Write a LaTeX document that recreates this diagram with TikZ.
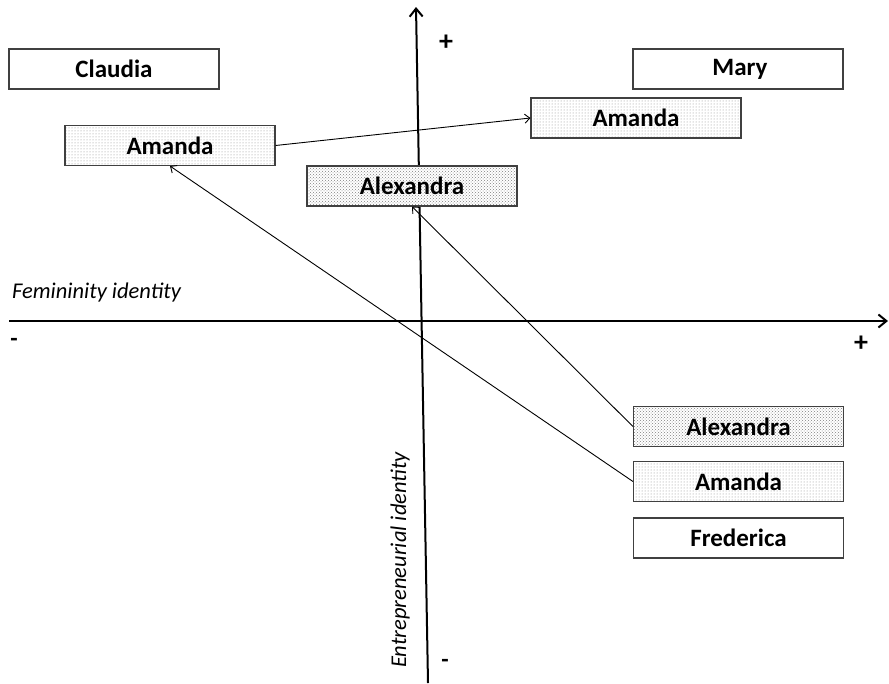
\documentclass[tikz,border=0pt]{standalone}
\usepackage{fontspec}
\setmainfont{Carlito}
\usetikzlibrary{arrows.meta,patterns}
\begin{document}
\begin{tikzpicture}[x=1pt,y=-1pt,
  namebox/.style={draw=black!75,line width=1.1pt,minimum width=210pt,minimum height=40pt,inner sep=0pt,
    font=\fontsize{25}{29}\selectfont\bfseries,fill=white},
  sparse/.style={namebox,preaction={fill=white},pattern=dots,pattern color=black!45},
  dense/.style={namebox,preaction={fill=white},pattern=crosshatch dots,pattern color=black!50},
  axis/.style={line width=2pt,-{Straight Barb[length=8pt,width=13pt,line width=2pt]}},
  move/.style={line width=0.9pt,-{Straight Barb[length=5pt,width=9pt,line width=0.9pt]}},
  sign/.style={font=\fontsize{28}{30}\selectfont\bfseries,inner sep=0pt},
  axlabel/.style={font=\fontsize{22.5}{26}\selectfont\itshape,inner sep=0pt}]
\useasboundingbox (0,0) rectangle (889,683);
% axes
\coordinate (vbot) at (428,683);
\coordinate (vtop) at (416,7);
\coordinate (hl) at (9,321);
\coordinate (hr) at (888,321);
\draw[axis] (vbot) -- (vtop);
\draw[axis] (hl) -- (hr);
% axis signs and labels
\node[sign] (vplus) at (446,43) {+};
\node[sign,font=\fontsize{24}{26}\selectfont\bfseries] (vminus) at (445,663) {-};
\node[sign,font=\fontsize{24}{26}\selectfont\bfseries] (hminus) at (14,342) {-};
\node[sign] (hplus) at (861,344) {+};
\node[axlabel,anchor=west] (fem) at (12,292) {Femininity identity};
\node[axlabel,rotate=90,anchor=west] (ent) at (400,668) {Entrepreneurial identity};
% name boxes
\node[namebox] (claudia) at (114,69) {Claudia};
\node[namebox] (mary) at (738,69) {\hspace*{4pt}Mary};
\node[sparse] (amL) at (170,145.5) {Amanda};
\node[sparse] (amR) at (636,118) {Amanda};
\node[dense] (alC) at (412,186) {Alexandra};
\node[dense] (alB) at (738.5,426.5) {Alexandra};
\node[sparse] (amB) at (738.5,481.5) {Amanda};
\node[namebox] (fred) at (738.5,538) {Frederica};
% movements
\draw[move] (amL.east) -- (amR.west);
\draw[move] (amB.west) -- (amL.south);
\draw[move] (alB.west) -- (alC.south);
\end{tikzpicture}
\end{document}
